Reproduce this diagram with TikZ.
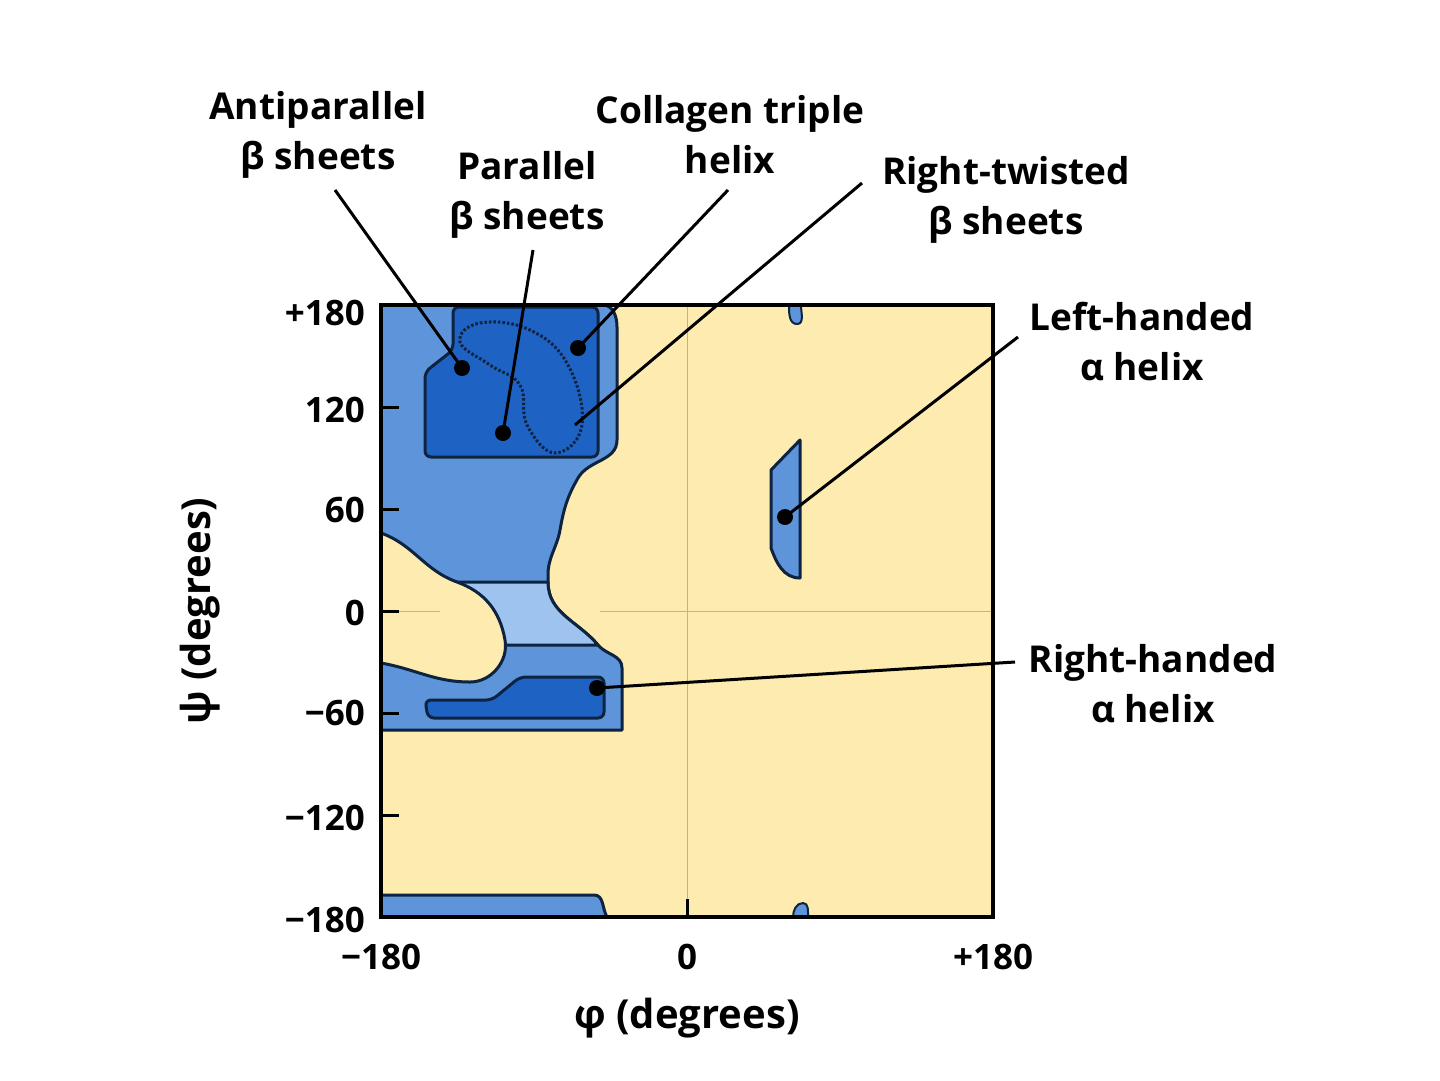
\documentclass[tikz,border=0pt]{standalone}
\usepackage{fontspec}
\setmainfont{Open Sans}
\usetikzlibrary{positioning,calc}
\definecolor{plotyellow}{HTML}{FDEBB0}
\definecolor{midblue}{HTML}{5E95DA}
\definecolor{lightblue}{HTML}{9DC3EE}
\definecolor{darkblue}{HTML}{1E63C4}
\definecolor{edgeblue}{HTML}{0D2340}
\tikzset{
  region/.style={draw=edgeblue, line width=3pt, line join=round},
  lbl/.style={font=\fontsize{37}{50}\selectfont\bfseries, align=center, inner sep=0pt},
  tick/.style={font=\fontsize{35}{40}\selectfont\bfseries, inner sep=0pt},
  pointer/.style={line width=3pt, black},
  spot/.style={fill=black}
}
\begin{document}
\begin{tikzpicture}[x=1pt,y=-1pt]
    \useasboundingbox (0,0) rectangle (1440,1080);
    \fill[white] (0,0) rectangle (1440,1080);

    % background of the plot
    \fill[plotyellow] (381,305) rectangle (993,917);

    % allowed regions
    \filldraw[region, fill=midblue] (381,305) -- (603,305) to[out=0,in=90] (617,327) -- (617,440)
        to[out=-90,in=60] (578,478) to[out=-120,in=80] (560,530) to[out=-100,in=90] (548,575)
        -- (548,582) to[out=-90,in=130] (598,645) to[out=-50,in=90] (622,668) -- (622,730)
        -- (381,730) -- cycle;
    \filldraw[region, fill=lightblue] (440,582) -- (548,582) to[out=-90,in=130] (598,645) -- (490,645) -- cycle;
    \filldraw[region, fill=plotyellow] (381,533) to[out=-20,in=160] (457,582) to[out=-20,in=100] (505,640)
        to[out=-80,in=0] (470,682) to[out=180,in=-10] (381,663);
    \draw[gray!60, line width=1pt] (687,305) -- (687,917);
    \draw[gray!60, line width=1pt] (381,611) -- (440,611);
    \draw[gray!60, line width=1pt] (600,611) -- (993,611);
    \filldraw[region, fill=darkblue, rounded corners=6pt] (425,457) -- (425,372) -- (453,350) -- (453,307)
        -- (598,307) -- (598,457) -- cycle;
    \draw[edgeblue, line width=3pt, dash pattern=on 2.5pt off 2pt] plot[smooth cycle, tension=0.7]
        coordinates {(460,342) (480,323) (530,330) (568,365) (582,425) (555,453) (527,425) (520,385) (490,365)};
    \filldraw[region, fill=darkblue, rounded corners=6pt] (428,718) -- (425,700) -- (492,700) -- (520,677)
        -- (604,677) -- (604,718) -- cycle;
    \filldraw[region, fill=midblue] (381,895) -- (594,895) to[out=0,in=120] (607,917) -- (381,917) -- cycle;
    \filldraw[region, fill=midblue] (771,548) -- (771,470) -- (800,440) -- (800,578)
        to[out=180,in=-70] (771,548) -- cycle;
    \filldraw[region, fill=midblue, line width=2pt] (789,305) to[out=-90,in=180] (797,324)
        to[out=0,in=-90] (801,305);
    \filldraw[region, fill=midblue, line width=2pt] (793,917) to[out=90,in=180] (803,903)
        to[out=0,in=90] (808,917);

    % frame and ticks
    \draw[black, line width=3.2pt] (381,305) rectangle (993,917);
    \foreach \v/\t in {313/{+180}, 410/120, 510/60, 613/0, 713/{−60}, 818/{−120}, 920/{−180}} {
        \node[tick, anchor=east] at (365,\v) {\t};
    }
    \foreach \v in {407,509,611,713,815} {
        \draw[black, line width=3pt] (381,\v) -- (399,\v);
    }
    \draw[black, line width=3pt] (687,917) -- (687,899);
    \node[tick] (xmin) at (381,957) {−180};
    \node[tick] (xzero) at (687,957) {0};
    \node[tick] (xmax) at (993,957) {+180};
    \node[lbl, font=\fontsize{40}{44}\selectfont\bfseries] (xtitle) at (687,1018) {φ (degrees)};
    \node[lbl, font=\fontsize{40}{44}\selectfont\bfseries, rotate=90] (ytitle) at (200,611) {ψ (degrees)};

    % labels
    \node[lbl] (anti) at (318,135) {Antiparallel\\β sheets};
    \node[lbl] (para) at (527,195) {Parallel\\β sheets};
    \node[lbl] (coll) at (730,135) {Collagen triple\\helix};
    \node[lbl] (twist) at (1006,200) {Right-twisted\\β sheets};
    \node[lbl] (left) at (1142,342) {Left-handed\\α helix};
    \node[lbl] (right) at (1153,684) {Right-handed\\α helix};

    \coordinate (antidot) at (462,368);
    \coordinate (paradot) at (503,433);
    \coordinate (colldot) at (578,348);
    \coordinate (twistdot) at (575,425);
    \coordinate (leftdot) at (785,517);
    \coordinate (rightdot) at (597,688);
    \foreach \d in {antidot,paradot,colldot,leftdot,rightdot} {
        \fill[spot] (\d) circle (8);
    }

    \draw[pointer] (335,190) -- (antidot);
    \draw[pointer] (533,250) -- (paradot);
    \draw[pointer] (728,190) -- (colldot);
    \draw[pointer] (862,183) -- (twistdot);
    \draw[pointer] (1018,337) -- (leftdot);
    \draw[pointer] (1015,662) -- (rightdot);
\end{tikzpicture}
\end{document}
